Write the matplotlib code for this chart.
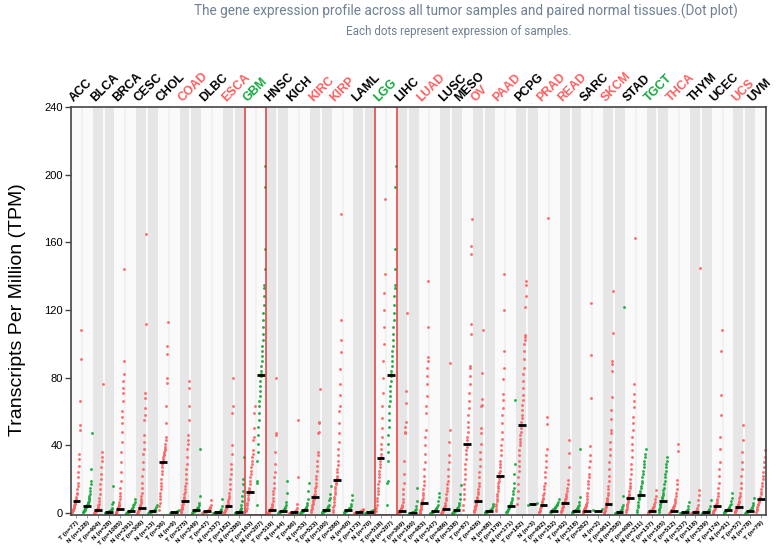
import numpy as np
import matplotlib
matplotlib.use('Agg')
import matplotlib.pyplot as plt
from matplotlib.patches import Rectangle
import matplotlib.transforms as mtransforms

# cancer types, label colour and sample sizes (None = no normal group)
cancers = ['ACC', 'BLCA', 'BRCA', 'CESC', 'CHOL', 'COAD', 'DLBC', 'ESCA', 'GBM', 'HNSC', 'KICH',
           'KIRC', 'KIRP', 'LAML', 'LGG', 'LIHC', 'LUAD', 'LUSC', 'MESO', 'OV', 'PAAD', 'PCPG',
           'PRAD', 'READ', 'SARC', 'SKCM', 'STAD', 'TGCT', 'THCA', 'THYM', 'UCEC', 'UCS', 'UVM']
label_kind = ['k', 'k', 'k', 'k', 'k', 'r', 'k', 'r', 'g', 'k', 'k',
              'r', 'r', 'k', 'g', 'k', 'r', 'k', 'k', 'r', 'r', 'k',
              'r', 'r', 'k', 'r', 'k', 'g', 'r', 'k', 'k', 'r', 'k']
tumor_n = [77, 404, 1085, 306, 36, 275, 47, 182, 163, 519, 66, 523, 286, 173, 518, 369, 483,
           486, 87, 426, 179, 182, 492, 92, 262, 461, 408, 137, 512, 118, 174, 57, 79]
normal_n = [128, 28, 291, 13, 9, 349, 337, 286, 207, 44, 53, 100, 60, 70, 207, 160, 347,
            338, None, 88, 171, 3, 152, 318, 2, 558, 211, 165, 337, 339, 91, 78, None]
tumor_median = [7.1, 2.0, 2.6, 3.1, 30, 7.0, 1.0, 4.3, 12.4, 2.0, 0.4, 9.4, 19.3, 0.6, 32.7,
                1.2, 6.0, 2.6, 41, 7.0, 21.9, 52, 5.0, 6.0, 1.4, 5.6, 8.8, 1.0, 1.3, 0.4,
                3.9, 3.5, 8.5]
normal_median = [4.0, 0.6, 1.2, 1.0, 0.4, 1.6, 0.4, 0.4, 81.7, 1.0, 1.6, 1.6, 1.6, 0.6, 81.7,
                 0.2, 1.2, 1.6, None, 1.2, 4.0, 5.5, 1.3, 1.0, 1.4, 0.4, 10.7, 7.2, 0.4, 0.4,
                 1.8, 1.4, None]

# sorted expression values (TPM), tumor (T) and normal (N)
ACC_T = [0.3, 0.8, 1.5, 2, 2.5, 3, 3.5, 4, 5, 5.5, 6, 6.5, 7, 7.5, 8.5, 9.5, 11, 12, 14, 16, 18,
         21, 24, 28, 32, 35, 49, 52, 66, 91, 108]
ACC_N = [0.3, 0.6, 1, 1.3, 1.6, 2, 2.3, 2.7, 3, 3.3, 3.7, 4, 4.3, 4.7, 5, 5.5, 6, 6.5, 7, 8, 9,
         10, 11, 13, 15, 17, 19, 26, 47]
BLCA_T = [0, 0.1, 0.2, 0.4, 0.6, 0.8, 1, 1.2, 1.4, 1.7, 2, 2.3, 2.7, 3.2, 3.8, 4.5, 5.5, 7, 9,
          11, 14, 17, 20, 23, 27, 31, 33, 36, 76]
BLCA_N = [0, 0.1, 0.2, 0.3, 0.4, 0.5, 0.5, 0.6, 0.7, 0.8, 0.9, 1, 1.2, 1.5, 1.9, 2.5, 3.2, 5.5,
          6.5, 16]
BRCA_T = [0, 0.2, 0.4, 0.6, 0.9, 1.2, 1.5, 1.9, 2.3, 2.6, 3, 3.5, 4, 4.7, 5.5, 6.5, 8, 10, 12, 15,
          19, 24, 30, 36, 42, 48, 53, 57, 60, 66, 71, 74, 78, 82, 90, 144]
BRCA_N = [0, 0.2, 0.4, 0.6, 0.8, 1, 1.2, 1.4, 1.7, 2, 2.4, 2.9, 3.5, 4.5, 5.5, 6.5, 8]
CESC_T = [0, 0.3, 0.6, 1, 1.4, 1.8, 2.3, 2.8, 3.1, 3.6, 4.2, 5, 6, 7, 8.5, 10, 12, 15, 18, 22, 26,
          30, 35, 38, 42, 46, 55, 58, 62, 68, 71, 112, 165]
CESC_N = [0.2, 0.4, 0.6, 0.7, 0.8, 0.9, 1, 1.2, 1.5, 2, 2.6, 3.4, 4.5]
CHOL_T = [2, 4, 6, 8, 10, 12, 14, 16, 18, 20, 23, 25, 27, 29, 30, 31, 32, 33, 34, 35, 36, 37, 38,
          39, 41, 43, 45, 53, 63, 77, 80, 94, 99, 113]
CHOL_N = [0.1, 0.2, 0.3, 0.35, 0.4, 0.5, 0.7, 1, 2]
COAD_T = [0.3, 0.8, 1.5, 2.2, 3, 3.8, 4.6, 5.4, 6.2, 7, 7.8, 8.7, 9.7, 11, 12.5, 14, 16, 18, 20,
          23, 26, 29, 33, 38, 41, 43, 46, 55, 63, 74, 78]
COAD_N = [0, 0.2, 0.4, 0.6, 0.8, 1, 1.2, 1.4, 1.6, 1.8, 2, 2.3, 2.7, 3.2, 3.8, 4.5, 6, 10, 38]
DLBC_T = [0.1, 0.2, 0.3, 0.4, 0.5, 0.6, 0.7, 0.8, 0.9, 1, 1.1, 1.2, 1.4, 1.6, 1.9, 2.3, 2.8, 3.5,
          4.5, 7.5]
DLBC_N = [0, 0.05, 0.1, 0.15, 0.2, 0.25, 0.3, 0.35, 0.4, 0.45, 0.5, 0.6, 0.7, 0.8, 1, 1.3, 1.8,
          2.5, 4, 8]
ESCA_T = [0.2, 0.5, 0.9, 1.3, 1.8, 2.3, 2.8, 3.3, 3.8, 4.3, 4.9, 5.6, 6.5, 7.5, 8.7, 10, 12, 14,
          17, 20, 23, 26, 29, 35, 40, 59, 63, 80]
ESCA_N = [0, 0.05, 0.1, 0.15, 0.2, 0.25, 0.3, 0.35, 0.4, 0.5, 0.6, 0.7, 0.9, 1.2, 1.6, 2.2, 3,
          4.5, 7, 10, 13, 17, 20, 33]
GBM_T = [1, 2, 3, 4.5, 6, 7.5, 9, 10.5, 12, 13.5, 15, 17, 19, 21, 23, 25, 27, 29, 31, 33, 35, 37,
         43, 45, 50, 59, 63]
# GTEx brain, shared by GBM and LGG
BRAIN_N = [4.5, 18, 19, 31, 36, 41, 46, 51, 55, 59, 63, 66, 69, 72, 75, 78, 81, 82, 84, 87, 90,
           93, 96, 99, 102, 106, 110, 114, 118, 123, 128, 133, 135, 144, 156, 193, 205]
HNSC_T = [0, 0.2, 0.4, 0.6, 0.8, 1, 1.2, 1.5, 1.8, 2, 2.3, 2.7, 3.2, 3.8, 4.5, 5.5, 7, 9, 11, 13,
          15, 18, 21, 24, 29, 36, 46, 47, 80]
HNSC_N = [0.1, 0.3, 0.5, 0.7, 0.8, 0.9, 1, 1.1, 1.3, 1.5, 1.8, 2.2, 2.8, 3.5, 4.5, 6.5, 11.8, 18.7]
KICH_T = [0, 0.05, 0.1, 0.15, 0.2, 0.3, 0.35, 0.4, 0.45, 0.5, 0.6, 0.8, 1, 1.4, 2, 3, 5.5, 21,
          54.7]
KICH_N = [0.2, 0.4, 0.6, 0.8, 1, 1.2, 1.4, 1.6, 1.8, 2.1, 2.5, 3, 3.6, 4.5, 6, 8.5, 13, 18]
KIRC_T = [0.5, 1.5, 2.5, 3.5, 4.5, 5.5, 6.5, 7.5, 8.5, 9.4, 10.5, 11.5, 13, 14.5, 16, 18, 20, 22,
          25, 28, 31, 34, 36, 47, 48, 53, 54, 73]
KIRC_N = [0.2, 0.4, 0.6, 0.8, 1, 1.2, 1.4, 1.6, 1.8, 2, 2.3, 2.7, 3.2, 4, 5, 7.5, 9, 11, 16]
KIRP_T = [0.5, 2, 3.5, 5, 6.5, 8, 9.5, 11, 12.5, 14, 15.5, 17, 18, 19, 19.5, 20.5, 22, 24, 26,
          28.5, 31, 34, 38, 42, 47, 53, 60, 63, 70, 76, 85, 95, 102, 114, 177]
KIRP_N = [0.2, 0.5, 0.8, 1, 1.2, 1.4, 1.6, 1.8, 2, 2.3, 2.7, 3.2, 4, 5.5, 7.5, 10.4]
LAML_T = [0, 0.1, 0.2, 0.3, 0.4, 0.5, 0.6, 0.7, 0.8, 0.9, 1, 1.2, 1.5, 2, 2.5]
LAML_N = [0, 0.1, 0.2, 0.3, 0.4, 0.5, 0.6, 0.7, 0.8, 0.9, 1, 1.2, 1.5, 2]
LGG_T = [1, 3, 5, 7, 9, 11, 13, 15, 17, 19, 21, 23, 25, 27, 29, 31, 33, 35, 38, 41, 45, 50, 56,
         63, 71, 80, 90, 100, 110, 120, 130, 141, 185.6]
LIHC_T = [0, 0.1, 0.2, 0.4, 0.6, 0.8, 1, 1.2, 1.5, 1.8, 2.2, 2.7, 3.3, 4, 5, 6.5, 8.5, 11, 14, 18,
          23, 31, 47, 48, 51, 54, 65, 72, 118]
LIHC_N = [0, 0.05, 0.1, 0.15, 0.2, 0.25, 0.3, 0.4, 0.5, 0.7, 1, 1.5, 2.5, 4, 7, 15]
LUAD_T = [0.2, 0.6, 1.2, 1.8, 2.5, 3.2, 4, 4.8, 5.5, 6, 6.8, 7.8, 9, 10.5, 12, 14, 16.5, 19, 22,
          26, 30, 35, 40, 45, 49, 59, 63, 69, 76, 81, 86, 90, 92, 110, 137]
LUAD_N = [0, 0.2, 0.4, 0.6, 0.8, 1, 1.2, 1.4, 1.7, 2, 2.4, 3, 3.8, 5, 7, 9.4, 11.8]
LUSC_T = [0, 0.2, 0.5, 0.9, 1.3, 1.8, 2.3, 2.6, 3, 3.5, 4.2, 5, 6, 7.5, 9, 11, 13, 15, 17, 19, 22,
          26, 30, 34, 42, 49, 88.6]
LUSC_N = [0, 0.2, 0.4, 0.7, 1, 1.3, 1.6, 1.9, 2.3, 2.8, 3.5, 4.5, 6, 8, 11.4, 16.7]
MESO_T = [2, 5, 8, 11, 14, 17, 20, 23, 26, 29, 32, 35, 37, 39, 41, 43, 45, 48, 51, 54, 58, 62, 66,
          71, 76, 81, 86, 87, 106, 112, 153, 158, 174]
OV_T = [0.3, 1, 1.8, 2.6, 3.4, 4.2, 5, 5.8, 6.5, 7, 7.8, 8.7, 9.7, 11, 12.5, 14, 16, 18, 21, 24,
        28, 32, 36, 41, 47, 50, 63, 63.6, 67.5, 83, 108]
OV_N = [0.1, 0.3, 0.5, 0.7, 0.9, 1.1, 1.3, 1.6, 2, 2.5, 3.2, 4.2, 5.5]
PAAD_T = [1, 2.5, 4, 5.5, 7, 8.5, 10, 11.5, 13, 14.5, 16, 17.5, 19, 20.5, 22, 23.5, 25, 27, 29,
          31, 34, 37, 40, 44, 48, 53, 58, 62, 66.5, 70.5, 79, 86, 95.7, 120, 141]
PAAD_N = [0.3, 0.8, 1.3, 1.8, 2.3, 2.8, 3.3, 3.7, 4, 4.5, 5, 5.7, 6.5, 7.5, 9, 11, 13, 15, 18, 23,
          29, 67]
PCPG_T = [5.5, 9, 13, 17, 21, 25, 28, 31, 34, 37, 40, 42, 44, 46, 48, 50, 52, 54, 56, 58, 61, 64,
          67, 70, 74, 78, 82, 86, 91, 96, 100, 102, 104, 105, 122, 128.5, 135, 137]
PCPG_N = [5, 5.5, 6]
PRAD_T = [0.3, 0.8, 1.4, 2, 2.7, 3.4, 4.1, 4.8, 5.5, 6.2, 7, 8, 9, 10.5, 12, 14, 16, 18, 21, 24,
          27, 31, 34, 38, 52.8, 56.7, 174.4]
PRAD_N = [0.3, 0.7, 1.1, 1.5, 1.9, 2.3, 2.6, 3, 3.5, 4, 4.7, 5.5, 6.5, 8.5]
READ_T = [0.5, 1.2, 2, 2.8, 3.6, 4.4, 5.2, 6, 6.5, 7.2, 8, 9, 10, 11.5, 13, 15, 17, 19.3, 27,
          35.4, 43]
READ_N = [0.1, 0.3, 0.5, 0.7, 0.9, 1.1, 1.3, 1.5, 1.7, 2, 2.3, 2.7, 3.2, 4, 5, 6.5, 9.4, 38]
SARC_T = [0, 0.3, 0.6, 1, 1.4, 1.8, 2.2, 2.6, 3, 3.5, 4.1, 4.8, 5.6, 6.6, 8, 10, 12, 14.5, 17, 19,
          21, 23, 27, 31, 34, 39.6, 68, 93.5, 124]
SARC_N = [1.8, 2.6]
SKCM_T = [0.2, 0.7, 1.3, 2, 2.7, 3.5, 4.3, 5.1, 5.9, 6.3, 7, 8, 9, 10.5, 12, 14, 16, 19, 22, 26,
          30, 34, 38, 42, 47, 49, 55.7, 61, 68.5, 84, 88, 90, 106.5, 131]
SKCM_N = [0, 0.05, 0.1, 0.2, 0.3, 0.4, 0.5, 0.6, 0.8, 1, 1.3, 1.8, 2.5, 3.5, 4.5, 9.8, 122]
STAD_T = [0.5, 1.5, 2.5, 3.5, 4.5, 5.5, 6.5, 7.5, 8.5, 9.4, 10.5, 11.5, 13, 14.5, 16, 18, 20, 23,
          26, 29, 33, 37, 41, 45, 49, 53, 57, 62.6, 66, 70.5, 76, 162.6]
STAD_N = [0.5, 2, 3.5, 5, 6.5, 8, 9.2, 10.4, 11.8, 13, 14.5, 16, 17.5, 19, 21, 23, 25, 27, 29, 31,
          33, 35, 38]
TGCT_T = [0.1, 0.3, 0.5, 0.7, 0.9, 1.1, 1.3, 1.6, 1.9, 2.3, 2.8, 3.4, 4.2, 5.2, 6.5, 8, 10, 13.4]
TGCT_N = [0.5, 1.5, 2.5, 3.5, 4.5, 5.5, 6.5, 7.3, 7.9, 8.6, 9.5, 10.5, 12, 13.5, 15, 17, 19, 21,
          23, 25, 27, 29, 31, 33]
THCA_T = [0, 0.3, 0.6, 0.9, 1.2, 1.5, 1.9, 2.2, 2.6, 3, 3.5, 4.1, 4.8, 5.7, 6.8, 8.2, 10, 12, 14,
          17, 19.3, 36.4, 41]
THCA_N = [0, 0.05, 0.1, 0.15, 0.2, 0.3, 0.4, 0.5, 0.6, 0.8, 1, 1.3, 1.8, 2.5, 4, 6.5]
THYM_T = [0, 0.05, 0.1, 0.2, 0.3, 0.4, 0.5, 0.6, 0.8, 1, 1.4, 2, 3, 5, 7.5, 10.4, 13.4, 145]
THYM_N = [0, 0.05, 0.1, 0.2, 0.3, 0.4, 0.5, 0.6, 0.8, 1, 1.3, 1.8, 2.6, 4, 7.5]
UCEC_T = [0.2, 0.6, 1, 1.5, 2, 2.5, 3, 3.5, 3.9, 4.5, 5.2, 6, 7, 8.5, 10, 12, 15, 18, 22, 26, 30,
          38, 45, 58, 70, 96, 108]
UCEC_N = [0.2, 0.5, 0.8, 1.1, 1.4, 1.6, 1.8, 2.1, 2.5, 3, 3.6, 4.5, 5.5, 7, 9, 12]
UCS_T = [0.3, 0.8, 1.3, 1.8, 2.3, 2.8, 3.2, 3.5, 4, 4.6, 5.3, 6.2, 7.3, 8.6, 10, 12, 15, 18, 22,
         26, 30, 36, 43, 52]
UCS_N = [0.2, 0.4, 0.6, 0.8, 1, 1.2, 1.4, 1.6, 1.9, 2.3, 2.8, 3.5, 4.5, 6, 9]
UVM_T = [0.5, 1.5, 2.5, 3.5, 4.5, 5.5, 6.5, 7.3, 8, 8.8, 9.7, 11, 12.5, 14, 16, 18, 20, 22, 24,
         27, 30, 33, 37]

tumor_values = [ACC_T, BLCA_T, BRCA_T, CESC_T, CHOL_T, COAD_T, DLBC_T, ESCA_T, GBM_T, HNSC_T,
                KICH_T, KIRC_T, KIRP_T, LAML_T, LGG_T, LIHC_T, LUAD_T, LUSC_T, MESO_T, OV_T,
                PAAD_T, PCPG_T, PRAD_T, READ_T, SARC_T, SKCM_T, STAD_T, TGCT_T, THCA_T, THYM_T,
                UCEC_T, UCS_T, UVM_T]
normal_values = [ACC_N, BLCA_N, BRCA_N, CESC_N, CHOL_N, COAD_N, DLBC_N, ESCA_N, BRAIN_N, HNSC_N,
                 KICH_N, KIRC_N, KIRP_N, LAML_N, BRAIN_N, LIHC_N, LUAD_N, LUSC_N, None, OV_N,
                 PAAD_N, PCPG_N, PRAD_N, READ_N, SARC_N, SKCM_N, STAD_N, TGCT_N, THCA_N, THYM_N,
                 UCEC_N, UCS_N, None]
boxed = ['GBM', 'LGG']

RED = '#ff6363'
GREEN = '#1aa83c'
text_col = {'k': 'black', 'r': '#ff5e5e', 'g': '#10a83a'}

fig = plt.figure(figsize=(7.77, 5.49), dpi=100)
ax = fig.add_axes([0.0914, 0.0619, 0.8945, 0.7432])
y0 = -1.2
ax.set_ylim(y0, 240)

top_trans = mtransforms.blended_transform_factory(ax.transData, ax.transAxes)

def draw_group(x_left, vals, color, med):
    k = len(vals)
    if k > 1:
        xs = x_left + 0.1 + 0.8 * np.arange(k) / (k - 1)
    else:
        xs = np.array([x_left + 0.5])
    ax.scatter(xs, vals, s=4.2, color=color, linewidths=0, alpha=0.95, zorder=3)
    ax.hlines(med, x_left + 0.14, x_left + 0.86, color='black', lw=2.0, zorder=4)

slot = 0
tick_pos, tick_lab = [], []
for i, name in enumerate(cancers):
    has_n = normal_values[i] is not None
    width = 2 if has_n else 1
    bg = '#fafafa' if i % 2 == 0 else '#e6e6e6'
    ax.axvspan(slot, slot + width, color=bg, lw=0, zorder=0)
    if has_n:
        ax.axvline(slot + 1, color='white' if i % 2 else '#f0f0f0', lw=1.2, zorder=1)

    draw_group(slot, tumor_values[i], RED, tumor_median[i])
    tick_pos.append(slot + 0.5)
    tick_lab.append('T (n=%d)' % tumor_n[i])
    if has_n:
        draw_group(slot + 1, normal_values[i], GREEN, normal_median[i])
        tick_pos.append(slot + 1.5)
        tick_lab.append('N (n=%d)' % normal_n[i])

    ax.text(slot + width / 2 - 0.55, 1.008, name, transform=top_trans, rotation=45,
            ha='left', va='bottom', rotation_mode='anchor', fontsize=8.8,
            fontweight='bold', color=text_col[label_kind[i]], family='Liberation Sans')

    if name in boxed:
        ax.add_patch(Rectangle((slot, y0), width, 240 - y0, fill=False,
                               edgecolor='#e03a3a', lw=1.1, zorder=5))
    slot += width

ax.set_xlim(0, slot)
ax.set_xticks(tick_pos)
ax.set_xticklabels(tick_lab, rotation=45, ha='right', rotation_mode='anchor',
                   fontsize=4.6, fontweight='bold', family='Liberation Sans')
ax.tick_params(axis='x', length=2, width=0.6, color='#888888', pad=1.5)
ax.set_yticks(range(0, 241, 40))
ax.set_yticklabels([str(v) for v in range(0, 241, 40)], fontsize=8, family='Liberation Sans')
ax.tick_params(axis='y', length=4, width=1, color='#444444', pad=2)
for sp in ax.spines.values():
    sp.set_color('#444444')
    sp.set_linewidth(1.2)
    sp.set_zorder(6)

fig.text(18 / 777, 1 - 310 / 549, 'Transcripts Per Million (TPM)', rotation=90,
         ha='center', va='center', fontsize=14, family='Liberation Sans')
fig.text(0.6, 1 - 11 / 549,
         'The gene expression profile across all tumor samples and paired normal tissues.(Dot plot)',
         ha='center', va='center', fontsize=9.8, color='#6f8094', family='Roboto')
fig.text(0.59, 1 - 31 / 549, 'Each dots represent expression of samples.',
         ha='center', va='center', fontsize=8.4, color='#6f8094', family='Roboto')

fig.savefig('out.png', dpi=100)
